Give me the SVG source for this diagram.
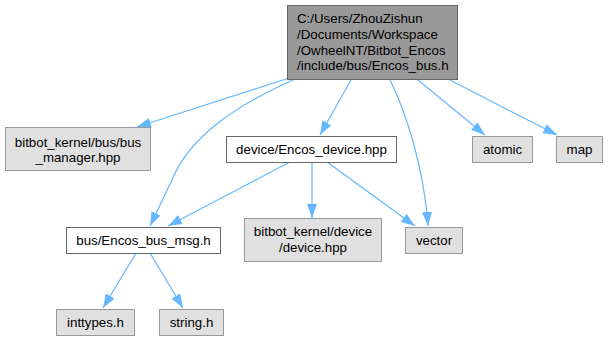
<svg xmlns="http://www.w3.org/2000/svg" width="608" height="341" viewBox="0 0 608 341">
  <style>
    text { font-family: "Liberation Sans", Arial, sans-serif; font-size: 13.3px; fill: #000; }
    .c { text-anchor: middle; }
    .root rect { fill: #999999; stroke: #666666; }
    .doc rect { fill: #ffffff; stroke: #666666; }
    .sys rect { fill: #e0e0e0; stroke: #999999; }
    #edges path { fill: none; stroke: #63b8ff; stroke-width: 1.2; }
  </style>
  <defs>
    <marker id="ah" viewBox="0 0 14 10" refX="14" refY="5" markerWidth="14" markerHeight="10" orient="auto" markerUnits="userSpaceOnUse">
      <path d="M0,0 L14,5 L0,10 z" fill="#63b8ff"/>
    </marker>
  </defs>

  <!-- include edges -->
  <g id="edges">
    <path d="M289,78 L137,127" marker-end="url(#ah)"/>
    <path d="M293,80 C240,104 190,134 171,182 L150,226" marker-end="url(#ah)"/>
    <path d="M351,80 L320,135" marker-end="url(#ah)"/>
    <path d="M390,80 C406,112 424,168 428,226" marker-end="url(#ah)"/>
    <path d="M418,80 L485,135" marker-end="url(#ah)"/>
    <path d="M450,80 L557,135" marker-end="url(#ah)"/>
    <path d="M290,162 L168,226" marker-end="url(#ah)"/>
    <path d="M312,162 L312,218" marker-end="url(#ah)"/>
    <path d="M327,162 L415,226" marker-end="url(#ah)"/>
    <path d="M136,253 L103,308" marker-end="url(#ah)"/>
    <path d="M150,253 L183,308" marker-end="url(#ah)"/>
  </g>

  <g id="encos_bus_h" class="root">
    <rect x="287.5" y="5.5" width="170" height="74"/>
    <text x="297" y="23">C:/Users/ZhouZishun</text>
    <text x="297" y="39">/Documents/Workspace</text>
    <text x="297" y="54.5">/OwheelNT/Bitbot_Encos</text>
    <text x="297" y="70">/include/bus/Encos_bus.h</text>
  </g>

  <g id="bus_manager_hpp" class="sys">
    <rect x="5.5" y="127.5" width="145" height="43"/>
    <text class="c" x="78" y="146.5">bitbot_kernel/bus/bus</text>
    <text class="c" x="78" y="162">_manager.hpp</text>
  </g>

  <g id="encos_device_hpp" class="doc">
    <rect x="226.5" y="136.5" width="170" height="26"/>
    <text class="c" x="311.5" y="154">device/Encos_device.hpp</text>
  </g>

  <g id="atomic" class="sys">
    <rect x="472.5" y="136.5" width="60" height="26"/>
    <text class="c" x="502.5" y="154">atomic</text>
  </g>

  <g id="map" class="sys">
    <rect x="556.5" y="136.5" width="46" height="26"/>
    <text class="c" x="579.5" y="154">map</text>
  </g>

  <g id="encos_bus_msg_h" class="doc">
    <rect x="66.5" y="227.5" width="154" height="26"/>
    <text class="c" x="143.5" y="245">bus/Encos_bus_msg.h</text>
  </g>

  <g id="device_hpp" class="sys">
    <rect x="244.5" y="218.5" width="137" height="43"/>
    <text class="c" x="313" y="236">bitbot_kernel/device</text>
    <text class="c" x="313" y="252">/device.hpp</text>
  </g>

  <g id="vector" class="sys">
    <rect x="405.5" y="227.5" width="57" height="26"/>
    <text class="c" x="434" y="245">vector</text>
  </g>

  <g id="inttypes_h" class="sys">
    <rect x="56.5" y="309.5" width="78" height="26"/>
    <text class="c" x="95.5" y="327">inttypes.h</text>
  </g>

  <g id="string_h" class="sys">
    <rect x="159.5" y="309.5" width="64" height="26"/>
    <text class="c" x="191.5" y="327">string.h</text>
  </g>
</svg>
